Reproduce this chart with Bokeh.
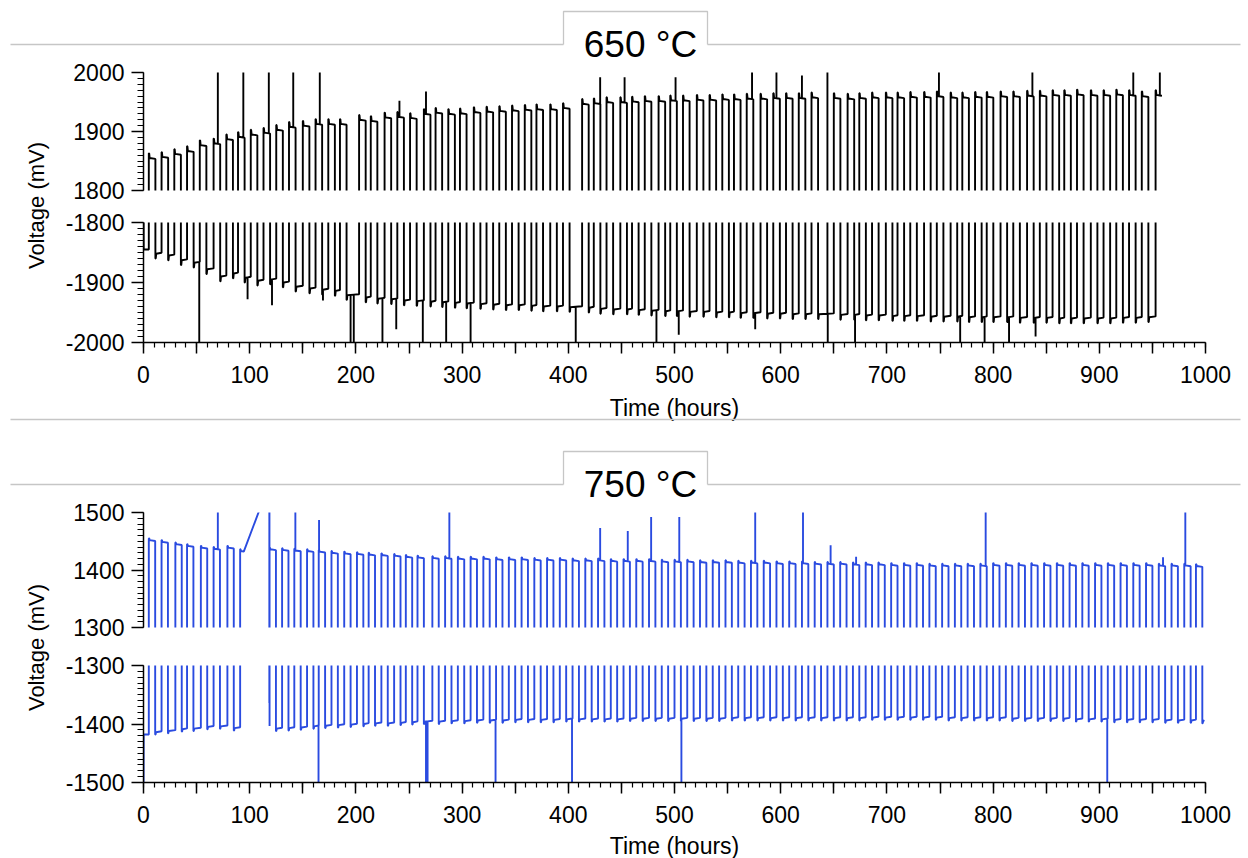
import math
from bokeh.plotting import figure
from bokeh.layouts import column, row
from bokeh.models import Range1d, SingleIntervalTicker, ColumnDataSource, PrintfTickFormatter
from bokeh.core.properties import value
from bokeh.embed import file_html
from bokeh.resources import INLINE

# ---------------- data ----------------
panel_titles = ["650 °C", "750 °C"]
x_label = "Time (hours)"
y_label = "Voltage (mV)"
x_half_ticks = [50, 150, 250, 350, 450, 550, 650, 750, 850, 950]

# 650 °C : start time (h) of each positive half-cycle, plateau levels (mV)
t650_on = [5, 17, 29, 41, 53, 66, 78, 89, 101, 113, 125, 137, 150, 162, 174, 185,
           203, 214, 227, 239, 251, 264, 275, 287, 298, 311, 323, 335, 347, 359, 370, 383, 395,
           413, 424, 436, 449, 460, 472, 485, 496, 508, 521, 533, 545, 556, 568, 581, 593, 605, 617, 629,
           650, 663, 674, 686, 699, 710, 722, 735, 747, 760, 771, 783, 794, 807, 819, 832, 844, 856, 867,
           879, 892, 904, 916, 928, 940, 953]
v650_pos = [1855, 1857, 1862, 1867, 1877, 1880, 1887, 1891, 1895, 1898, 1903, 1908, 1910, 1913, 1913, 1913,
            1920, 1918, 1924, 1925, 1923, 1930, 1932, 1930, 1931, 1933, 1934, 1935, 1936, 1937, 1938, 1938, 1940,
            1947, 1948, 1950, 1950, 1951, 1952, 1952, 1953, 1953, 1954, 1954, 1955, 1955, 1956, 1956, 1957, 1957, 1957, 1958,
            1957, 1956, 1957, 1958, 1958, 1958, 1959, 1959, 1960, 1958, 1958, 1959, 1959, 1960, 1960, 1961, 1961, 1962, 1962,
            1963, 1962, 1962, 1963, 1962, 1960, 1962]
v650_neg = [-1852, -1855, -1863, -1867, -1878, -1890, -1885, -1892, -1897, -1895, -1900, -1907, -1910, -1912, -1914, -1921,
            -1925, -1927, -1928, -1930, -1931, -1932, -1933, -1934, -1935, -1936, -1937, -1938, -1938, -1939, -1940, -1940, -1941,
            -1942, -1944, -1945, -1945, -1946, -1947, -1948, -1948, -1949, -1949, -1950, -1950, -1951, -1951, -1952, -1952, -1953, -1953, -1953,
            -1954, -1954, -1955, -1955, -1956, -1956, -1956, -1957, -1957, -1957, -1958, -1958, -1958, -1958, -1959, -1959, -1959, -1960, -1960,
            -1960, -1960, -1960, -1959, -1959, -1958, -1958]
v650_start = [-1700, -1845]
t650_end = 959
up650_t = [70, 94, 118, 141, 166, 241, 266, 430, 453, 501, 573, 596, 620, 644, 749, 837, 932, 957]
up650_v = [2010, 2010, 2010, 2010, 2010, 1952, 1968, 1992, 1992, 1992, 2010, 2010, 1995, 2010, 2010, 2010, 2010, 2010]
dn650_t = [52.5, 98, 121, 169, 195, 198, 225, 238, 263, 285, 308, 407, 483, 504, 576, 644.3, 670, 769, 792, 815, 840]
dn650_v = [-2010, -1928, -1938, -1930, -2010, -2010, -2010, -1978, -2010, -2010, -2010, -2010, -2010, -1987, -1978,
           -2010, -2010, -2010, -2010, -2010, -1990]

# 750 °C
t750_on = [5, 17, 30, 41, 54, 66, 79, 91,
           118.7, 130.5, 142, 154, 165, 177, 189, 201, 212, 224, 236, 247, 258,
           272, 284, 296, 308, 320, 332, 344, 356, 368, 380,
           392, 404, 416, 428, 440, 452, 464, 476, 488, 500,
           512, 524, 536, 548, 560, 572, 584, 596, 608, 620,
           632, 644, 656, 668, 680, 692, 704, 716, 728, 740,
           752, 764, 776, 788, 800, 812, 824, 836, 848, 860,
           872, 884, 896, 908, 920, 932, 944, 956, 968, 980,
           991]
v750_pos = [1452, 1449, 1445, 1442, 1439, 1437, 1439, 1433,
            1436, 1435, 1434, 1433, 1432, 1430, 1429, 1428, 1427, 1426, 1425, 1423, 1422,
            1421, 1421, 1420, 1420, 1420, 1419, 1419, 1419, 1418, 1418,
            1418, 1417, 1417, 1417, 1416, 1416, 1416, 1416, 1415, 1415,
            1415, 1414, 1414, 1414, 1413, 1413, 1413, 1412, 1412, 1412,
            1411, 1411, 1411, 1410, 1410, 1410, 1409, 1409, 1409, 1408,
            1408, 1408, 1408, 1408, 1409, 1409, 1409, 1409, 1409, 1409,
            1409, 1409, 1409, 1409, 1409, 1409, 1409, 1408, 1408, 1408,
            1407]
v750_neg = [-1414, -1412, -1409, -1408, -1405, -1404, -1407, -1405,
            -1408, -1407, -1406, -1404, -1403, -1402, -1401, -1400, -1399, -1399, -1398, -1397, -1396,
            -1396, -1395, -1395, -1394, -1394, -1394, -1393, -1393, -1393, -1393,
            -1392, -1392, -1392, -1392, -1392, -1391, -1391, -1391, -1391, -1391,
            -1391, -1391, -1391, -1390, -1390, -1390, -1390, -1390, -1390, -1390,
            -1390, -1390, -1390, -1390, -1389, -1389, -1389, -1389, -1389, -1389,
            -1390, -1390, -1390, -1390, -1390, -1391, -1391, -1391, -1391, -1391,
            -1392, -1392, -1392, -1393, -1393, -1393, -1393, -1394, -1394, -1394,
            -1395]
v750_start = [-1550, -1418]
t750_end = 999
gap750_t = [94.4, 118.5, 118.5, 118.6]
gap750_v = [1432, 1550, -1364, 1550]
up750_t = [70, 143, 165.3, 288, 430, 456, 478, 504.5, 576, 621, 647, 671, 793, 960, 981]
up750_v = [1510, 1510, 1487, 1510, 1473, 1468, 1492, 1492, 1510, 1510, 1443, 1423, 1510, 1422, 1510]
dn750_t = [164.8, 266, 267.5, 331.5, 403.5, 506.5, 907.5]
dn750_v = [-1510, -1510, -1510, -1510, -1510, -1510, -1510]

y650_hi = (1800, 2000)
y650_lo = (-2000, -1800)
y750_hi = (1300, 1500)
y750_lo = (-1500, -1300)


# ---------------- build the square-wave records ----------------
def build_wave(on_t, pos, neg, t_end, start, on_len, ovp, ovn):
    pts = [(0.0, start[0]), (0.15, start[1])]
    for i, s in enumerate(on_t):
        nxt = on_t[i + 1] if i + 1 < len(on_t) else t_end
        if pts[-1][0] < s:
            pts.append((s, pts[-1][1]))
        p = pos[i]
        e = min(s + on_len, nxt)
        pts += [(s, p + ovp), (s + 0.35, p + ovp), (s + 0.8, p), (e, p - 1.5)]
        if s + on_len < nxt:
            n = neg[i]
            pts += [(e, n - ovn), (e + 0.35, n - ovn), (e + 0.8, n), (nxt, n + 1.5)]
    return pts


def override(pts, t_from, t_to, gt, gv):
    kept = [q for q in pts if not (t_from < q[0] < t_to)]
    merged = kept + list(zip(gt, gv))
    merged.sort(key=lambda q: q[0])
    return merged


def add_spikes(pts, ts, vs):
    for t, top in zip(ts, vs):
        for j in range(len(pts) - 1):
            t0, v0 = pts[j]
            t1, v1 = pts[j + 1]
            if t0 <= t < t1:
                base = v0 + (v1 - v0) * (t - t0) / (t1 - t0)
                pts[j + 1:j + 1] = [(t, base), (t, top), (t, base)]
                break
    return pts


w650 = build_wave(t650_on, v650_pos, v650_neg, t650_end, v650_start, 6.2, 8, 8)
w650 = add_spikes(w650, up650_t, up650_v)
w650 = add_spikes(w650, dn650_t, dn650_v)

w750 = build_wave(t750_on, v750_pos, v750_neg, t750_end, v750_start, 6.0, 3, 4)
w750 = override(w750, 93.0, 118.7, gap750_t, gap750_v)
w750 = add_spikes(w750, up750_t, up750_v)
w750 = add_spikes(w750, dn750_t, dn750_v)

src650 = ColumnDataSource(dict(t=[q[0] for q in w650], v=[q[1] for q in w650]))
src750 = ColumnDataSource(dict(t=[q[0] for q in w750], v=[q[1] for q in w750]))

# ---------------- figures ----------------
PAGE_W = 1248
LW = 60
PW = PAGE_W - LW
ML = 83
MR = 43
FONT = "Liberation Sans"
GRAY = "#c6c6c6"
BLACK = "#000000"
BLUE = "#2a4be0"

xr650 = Range1d(0, 1000)
xr750 = Range1d(0, 1000)


def style_y(p):
    ax = p.yaxis[0]
    ax.ticker = SingleIntervalTicker(interval=100, num_minor_ticks=10)
    ax.formatter = PrintfTickFormatter(format="%d")
    ax.axis_line_color = BLACK
    ax.axis_line_width = 1.5
    ax.major_tick_line_color = BLACK
    ax.major_tick_line_width = 1.5
    ax.minor_tick_line_color = BLACK
    ax.minor_tick_line_width = 1.2
    ax.major_tick_out = 12
    ax.major_tick_in = 0
    ax.minor_tick_out = 6
    ax.minor_tick_in = 0
    ax.major_label_text_font = FONT
    ax.major_label_text_font_size = "23px"
    ax.major_label_text_color = BLACK
    ax.major_label_standoff = 7


def style_x(p):
    ax = p.xaxis[0]
    ax.ticker = SingleIntervalTicker(interval=50, num_minor_ticks=5)
    ax.major_label_overrides = {t: "" for t in x_half_ticks}
    ax.axis_line_color = BLACK
    ax.axis_line_width = 1.5
    ax.major_tick_line_color = BLACK
    ax.major_tick_line_width = 1.5
    ax.minor_tick_line_color = BLACK
    ax.minor_tick_line_width = 1.2
    ax.major_tick_out = 11
    ax.major_tick_in = 0
    ax.minor_tick_out = 5
    ax.minor_tick_in = 0
    ax.major_label_text_font = FONT
    ax.major_label_text_font_size = "23px"
    ax.major_label_text_color = BLACK
    ax.major_label_standoff = 12


def data_fig(h, top, bottom, xr, yr, show_x, src, color):
    p = figure(width=PW, height=h, x_range=xr, y_range=Range1d(*yr),
               toolbar_location=None, output_backend="svg",
               x_axis_location="below" if show_x else None, y_axis_location="left",
               min_border_left=ML, min_border_right=MR,
               min_border_top=top, min_border_bottom=bottom,
               outline_line_color=None, background_fill_color="white",
               border_fill_color=None)
    p.grid.visible = False
    style_y(p)
    if show_x:
        style_x(p)
    p.line(x="t", y="v", source=src, line_color=color, line_width=1.9)
    return p


def deco_fig(w, h, transparent=False):
    p = figure(width=w, height=h, x_range=Range1d(0, w), y_range=Range1d(0, h),
               toolbar_location=None, output_backend="svg",
               x_axis_type=None, y_axis_type=None, min_border=0,
               outline_line_color=None,
               background_fill_color=None if transparent else "white",
               border_fill_color=None if transparent else "white")
    p.grid.visible = False
    return p


def title_box(p, h, line_y, box_top, text_mid, text):
    # page-pixel layout -> local coords (origin bottom-left)
    ly = h - line_y
    by = h - box_top
    p.segment(x0=[10], y0=[ly], x1=[1240], y1=[ly], line_color=GRAY, line_width=1.3)
    p.quad(left=[563], right=[707], bottom=[0], top=[by], fill_color="white", line_color=None)
    p.line(x=[563, 563, 707, 707], y=[ly, by, by, ly], line_color=GRAY, line_width=1.3)
    p.text(x=[640], y=[h - text_mid], text=[text], text_font=value(FONT),
           text_font_size=value("37px"), text_align="center", text_baseline="middle",
           text_color=BLACK)


def xlabel(p, h, y_center):
    p.text(x=[674], y=[h - y_center], text=[x_label], text_font=value(FONT),
           text_font_size=value("23px"), text_align="center", text_baseline="middle",
           text_color=BLACK)


def ylabel_fig(h, y_center):
    p = deco_fig(LW, h, transparent=True)
    p.text(x=[36], y=[h - y_center], text=[y_label], text_font=value(FONT),
           text_font_size=value("22px"), text_align="center", text_baseline="middle",
           angle=math.pi / 2, text_color=BLACK)
    return p


# header 1 (page y 0..68, overlapped by the next row from y 60)
H1 = deco_fig(PAGE_W, 68)
title_box(H1, 68, 44, 11, 44, panel_titles[0])
H1.margin = (0, 0, -8, 0)

# panel 650 (page y 60..393)
B = data_fig(146, 12, 16, xr650, y650_hi, False, src650, BLACK)
C = data_fig(187, 16, 51, xr650, y650_lo, True, src650, BLACK)
L1 = ylabel_fig(333, 145)

# header 2 (page y 393..505, overlapped by the next row from y 500)
H2 = deco_fig(PAGE_W, 112)
xlabel(H2, 112, 14)
H2.segment(x0=[10], y0=[112 - 26], x1=[1240], y1=[112 - 26], line_color=GRAY, line_width=1.3)
title_box(H2, 112, 91, 58, 90.5, panel_titles[1])
H2.margin = (0, 0, -5, 0)

# panel 750 (page y 500..832)
E = data_fig(146, 12, 19, xr750, y750_hi, False, src750, BLUE)
F = data_fig(186, 19, 50, xr750, y750_lo, True, src750, BLUE)
L2 = ylabel_fig(332, 147)

# footer (page y 832..858)
H3 = deco_fig(PAGE_W, 26)
xlabel(H3, 26, 13)

layout = column(H1, row(L1, column(B, C)), H2, row(L2, column(E, F)), H3)

open("out.html", "w").write(file_html(layout, INLINE))
